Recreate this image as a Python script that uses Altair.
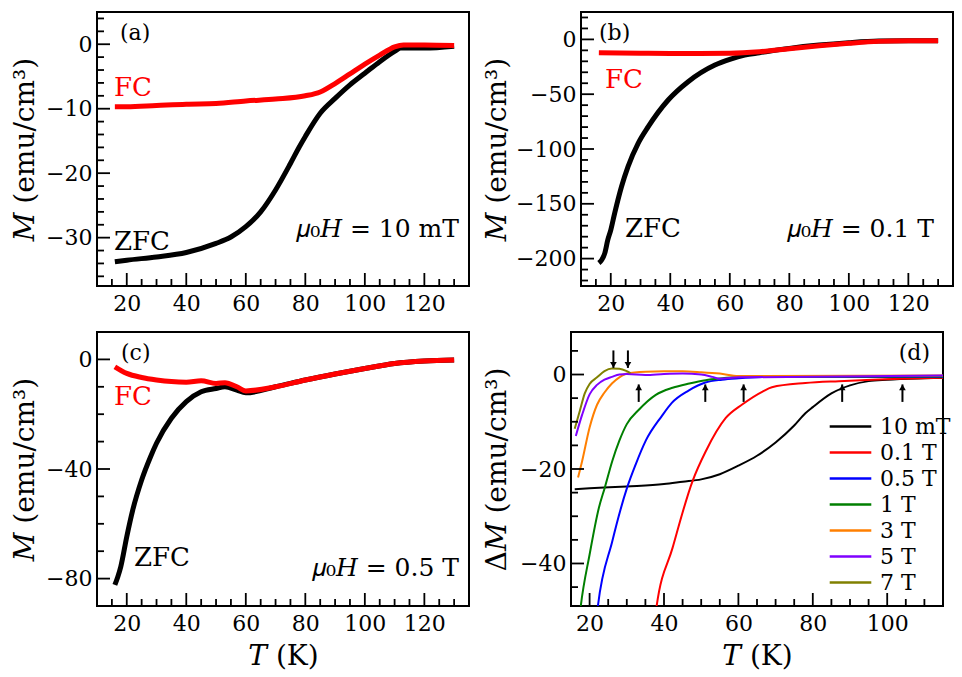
import altair as alt
import pandas as pd

FONT = "DejaVu Serif"
W, H = 372, 274

# ---------------- data ----------------
# (a) 10 mT
a_zfc_T = [16, 20, 30, 40, 50, 55, 60, 65, 70, 75, 78, 80, 85, 90, 95, 100, 105, 110, 112, 120, 130]
a_zfc_M = [-33.75, -33.5, -33.0, -32.3, -30.9, -29.9, -28.3, -26.0, -22.6, -18.5, -15.9, -14.3, -10.7, -8.4, -6.3, -4.5, -2.7, -1.1, -0.6, -0.6, -0.3]
a_fc_T = [16, 20, 30, 40, 50, 60, 70, 80, 85, 90, 95, 100, 105, 110, 113, 120, 130]
a_fc_M = [-9.7, -9.7, -9.5, -9.3, -9.2, -8.8, -8.5, -8.0, -7.4, -6.1, -4.6, -3.1, -1.7, -0.4, -0.1, -0.1, -0.2]

# (b) 0.1 T
b_zfc_T = [16, 17, 18, 19, 20, 21.3, 23.6, 25.8, 29.2, 32.6, 39.3, 46, 55, 60, 65, 70, 80, 90, 100, 110, 120, 130]
b_zfc_M = [-204, -201, -195, -183, -174, -158.7, -134.4, -116, -94.8, -79.6, -55.3, -38.6, -23.4, -18.2, -14.3, -12.2, -8.2, -5.2, -3.0, -1.5, -1.2, -1.2]
b_fc_T = [16, 30, 40, 50, 60, 70, 80, 90, 100, 110, 120, 130]
b_fc_M = [-12.2, -12.6, -12.8, -12.8, -12.6, -11.2, -8.5, -5.8, -3.6, -1.8, -1.2, -1.2]

# (c) 0.5 T
c_zfc_T = [16, 17, 18, 20, 22, 25, 28, 30, 35, 40, 45, 50, 53, 57, 60, 70, 80, 90, 100, 110, 120, 130]
c_zfc_M = [-82.3, -79.3, -75.6, -64.7, -55, -44, -35.5, -30.6, -21.5, -15.4, -11.8, -10.6, -10.0, -11.2, -12.2, -10, -7.5, -5.3, -3.3, -1.5, -0.6, -0.2]
c_fc_T = [16, 20, 25, 30, 35, 40, 45, 50, 53, 57, 60, 70, 80, 90, 100, 110, 120, 130]
c_fc_M = [-2.7, -5.1, -6.6, -7.5, -8.1, -8.3, -7.8, -8.8, -8.5, -10, -11.5, -10, -7.5, -5.3, -3.3, -1.5, -0.6, -0.2]

# (d) Delta M for several fields
d_labels = ["10 mT", "0.1 T", "0.5 T", "1 T", "3 T", "5 T", "7 T"]
d_colors = ["#000000", "#ff0000", "#0000ff", "#007f00", "#ff7f00", "#7f00ff", "#808000"]
d10_T = [16, 20, 30, 40, 45, 50, 55, 60, 65, 70, 75, 78, 80, 85, 90, 95, 100, 110, 115]
d10_M = [-24.3, -24.1, -23.7, -23.2, -22.7, -22.2, -21.1, -19.3, -17.2, -14.4, -10.8, -8.2, -6.9, -4.0, -2.3, -1.4, -1.1, -0.8, -0.7]
d01_T = [37.5, 38, 42.3, 47.7, 51.2, 56.6, 61.1, 66.5, 69, 78, 87, 96, 115]
d01_M = [-52, -49.1, -36.7, -22.5, -16.3, -9.2, -6.3, -3.6, -2.7, -1.8, -1.4, -1.1, -0.7]
d05_T = [21.8, 22.2, 26.1, 30.1, 32.4, 35.1, 39.4, 42.1, 46.6, 51.1, 55.6, 60.1, 69, 115]
d05_M = [-52, -49.2, -35.3, -23.9, -19.0, -14.0, -8.8, -6.0, -3.4, -1.7, -1.1, -0.8, -0.5, -0.5]
d1_T = [17.2, 17.6, 20, 22.5, 24.1, 26.1, 28, 30, 33.3, 37.8, 42.3, 46.8, 51.2, 55.7, 60.2, 115]
d1_M = [-52, -49.2, -38.1, -28.2, -23.9, -18.3, -14, -10.5, -7.4, -4.3, -2.8, -1.9, -1.2, -0.8, -0.5, -0.4]
d3_T = [16.9, 18, 20, 22, 24, 26, 28, 30, 35, 40, 45, 50, 55, 60, 115]
d3_M = [-21.8, -18.3, -11.2, -6.4, -3.8, -1.9, -0.6, 0.2, 0.6, 0.7, 0.7, 0.5, 0.2, -0.3, -0.2]
d5_T = [16.3, 18, 20, 22, 24, 26, 28, 30, 35, 40, 45, 50, 53, 55, 60, 115]
d5_M = [-13, -8.5, -4.2, -2.2, -1.1, -0.5, 0, 0.1, -0.1, 0.1, 0.2, 0, -0.5, -0.9, -0.6, -0.2]
d7_T = [16, 17.4, 18.7, 20, 22, 24, 26, 28, 30, 31]
d7_M = [-11.5, -7.6, -4.0, -2.0, -0.6, 0.7, 1.25, 1.2, 0.7, 0.3]

arrow_down_T = [26.4, 30.3]
arrow_down_from = [5.1, 5.1]
arrow_down_to = [1.4, 1.4]
arrow_up_T = [33.2, 51.1, 61.4, 87.9, 104.1]
arrow_up_from = [-5.8, -5.8, -5.8, -5.8, -5.8]
arrow_up_to = [-2.1, -2.1, -2.1, -2.1, -2.1]

# ticks
x_major_abc = [20, 40, 60, 80, 100, 120]
x_minor_abc = [15, 25, 30, 35, 45, 50, 55, 65, 70, 75, 85, 90, 95, 105, 110, 115, 125, 130]
y_major_a = [0, -10, -20, -30]
y_minor_a = [4, 2, -2, -4, -6, -8, -12, -14, -16, -18, -22, -24, -26, -28, -32, -34, -36]
y_major_b = [0, -50, -100, -150, -200]
y_minor_b = [20, 10, -10, -20, -30, -40, -60, -70, -80, -90, -110, -120, -130, -140, -160, -170, -180, -190, -210, -220]
y_major_c = [0, -40, -80]
y_minor_c = [-10, -20, -30, -50, -60, -70]
x_major_d = [20, 40, 60, 80, 100]
x_minor_d = [25, 30, 35, 45, 50, 55, 65, 70, 75, 85, 90, 95, 105, 110]
y_major_d = [0, -20, -40]
y_minor_d = [5, -5, -10, -15, -25, -30, -35, -45]


def x_axis(vals, title):
    kw = dict(values=vals, ticks=False, tickSize=0, domain=False, grid=False, labelFont=FONT,
              labelFontSize=22, labelColor="black", labelPadding=7, labelFlush=False)
    if title:
        kw.update(title=title, titleFont=FONT, titleFontSize=28, titleFontWeight="normal",
                  titleColor="black", titleX=W / 2, titleY=50, titleBaseline="middle", titleAlign="center")
    else:
        kw.update(title=None)
    return alt.Axis(**kw)


def y_axis(vals, title, tx):
    return alt.Axis(values=vals, ticks=False, tickSize=0, domain=False, grid=False, labelFont=FONT,
                    labelFontSize=22, labelColor="black", labelPadding=5, labelFlush=False,
                    title=title, titleFont=FONT, titleFontSize=28, titleFontWeight="normal",
                    titleColor="black", titleX=tx, titleY=H / 2, titleBaseline="middle",
                    titleAlign="center", titleAngle=270)


def tick_layers(xs, ys, xa, ya, xmaj, xmin, ymaj, ymin):
    out = []
    for vals, L in ((xmaj, 13), (xmin, 7)):
        out.append(alt.Chart(pd.DataFrame({"v": vals})).mark_rule(color="black", strokeWidth=1.8).encode(
            x=alt.X("v:Q", scale=xs, axis=xa), y=alt.value(H), y2=alt.value(H - L)))
    for vals, L in ((ymaj, 13), (ymin, 7)):
        out.append(alt.Chart(pd.DataFrame({"v": vals})).mark_rule(color="black", strokeWidth=1.8).encode(
            y=alt.Y("v:Q", scale=ys, axis=ya), x=alt.value(0), x2=alt.value(L)))
    return out


def text_layer(txt, px, py, size=24, color="black", align="left"):
    return alt.Chart(pd.DataFrame({"t": [txt]})).mark_text(
        font=FONT, fontSize=size, color=color, align=align, baseline="middle").encode(
        text="t:N", x=alt.value(px), y=alt.value(py))


def mt_panel(zfc_T, zfc_M, fc_T, fc_M, ydom, ymaj, ymin, xtitle, tx, texts):
    xs = alt.Scale(domain=[10, 135], nice=False, zero=False)
    ys = alt.Scale(domain=ydom, nice=False, zero=False)
    xa = x_axis(x_major_abc, xtitle)
    ya = y_axis(ymaj, "𝑀 (emu/cm³)", tx)
    zfc = alt.Chart(pd.DataFrame({"T": zfc_T, "M": zfc_M})).mark_line(
        strokeWidth=5, interpolate="monotone", color="black").encode(
        x=alt.X("T:Q", scale=xs, axis=xa), y=alt.Y("M:Q", scale=ys, axis=ya))
    fc = alt.Chart(pd.DataFrame({"T": fc_T, "M": fc_M})).mark_line(
        strokeWidth=5, interpolate="monotone", color="#ff0000").encode(
        x=alt.X("T:Q", scale=xs, axis=xa), y=alt.Y("M:Q", scale=ys, axis=ya))
    layers = [zfc, fc] + tick_layers(xs, ys, xa, ya, x_major_abc, x_minor_abc, ymaj, ymin)
    layers += [text_layer(*t[:3], **t[3]) for t in texts]
    return alt.layer(*layers).properties(width=W, height=H)


pa = mt_panel(a_zfc_T, a_zfc_M, a_fc_T, a_fc_M, [-37.5, 5], y_major_a, y_minor_a, None, -72, [
    ("(a)", 23, 21, dict(size=22)),
    ("FC", 17, 76, dict(size=26, color="#ff0000")),
    ("ZFC", 17, 230, dict(size=26)),
    ("𝜇₀𝐻 = 10 mT", 362, 217, dict(size=25, align="right")),
])
pb = mt_panel(b_zfc_T, b_zfc_M, b_fc_T, b_fc_M, [-225, 25], y_major_b, y_minor_b, None, -84, [
    ("(b)", 18, 21, dict(size=22)),
    ("FC", 24, 68, dict(size=26, color="#ff0000")),
    ("ZFC", 44, 217, dict(size=26)),
    ("𝜇₀𝐻 = 0.1 T", 353, 217, dict(size=25, align="right")),
])
pc = mt_panel(c_zfc_T, c_zfc_M, c_fc_T, c_fc_M, [-90, 10], y_major_c, y_minor_c, "𝑇 (K)", -72, [
    ("(c)", 24, 21, dict(size=22)),
    ("FC", 17, 65, dict(size=26, color="#ff0000")),
    ("ZFC", 37, 226, dict(size=26)),
    ("𝜇₀𝐻 = 0.5 T", 362, 236, dict(size=25, align="right")),
])

# panel (d)
xs_d = alt.Scale(domain=[15, 115], nice=False, zero=False)
ys_d = alt.Scale(domain=[-49, 9], nice=False, zero=False)
xa_d = x_axis(x_major_d, "𝑇 (K)")
ya_d = y_axis(y_major_d, "Δ𝑀 (emu/cm³)", -74)
frames = []
for lab, T, M in zip(d_labels, [d10_T, d01_T, d05_T, d1_T, d3_T, d5_T, d7_T],
                     [d10_M, d01_M, d05_M, d1_M, d3_M, d5_M, d7_M]):
    frames.append(pd.DataFrame({"T": T, "M": M, "field": lab}))
df_d = pd.concat(frames, ignore_index=True)

lines_d = alt.Chart(df_d).mark_line(strokeWidth=2, interpolate="monotone", clip=True).encode(
    x=alt.X("T:Q", scale=xs_d, axis=xa_d),
    y=alt.Y("M:Q", scale=ys_d, axis=ya_d),
    color=alt.Color("field:N", scale=alt.Scale(domain=d_labels, range=d_colors), sort=d_labels,
                    legend=alt.Legend(orient="none", legendX=265, legendY=80, title=None,
                                      symbolType="M-1.6,0H1.6", symbolSize=676, symbolStrokeWidth=2.4,
                                      labelFont=FONT, labelFontSize=22, labelColor="black",
                                      rowPadding=0, labelOffset=15, padding=0)),
    detail="field:N",
)
arr_dn = pd.DataFrame({"T": arrow_down_T, "a": arrow_down_from, "b": arrow_down_to})
arr_up = pd.DataFrame({"T": arrow_up_T, "a": arrow_up_from, "b": arrow_up_to})
shaft_dn = alt.Chart(arr_dn).mark_rule(color="black", strokeWidth=2).encode(
    x=alt.X("T:Q", scale=xs_d, axis=xa_d), y=alt.Y("a:Q", scale=ys_d, axis=ya_d), y2="b:Q")
head_dn = alt.Chart(arr_dn).mark_point(shape="triangle-down", filled=True, size=45, color="black",
                                       opacity=1, yOffset=-3).encode(
    x=alt.X("T:Q", scale=xs_d, axis=xa_d), y=alt.Y("b:Q", scale=ys_d, axis=ya_d))
shaft_up = alt.Chart(arr_up).mark_rule(color="black", strokeWidth=2).encode(
    x=alt.X("T:Q", scale=xs_d, axis=xa_d), y=alt.Y("a:Q", scale=ys_d, axis=ya_d), y2="b:Q")
head_up = alt.Chart(arr_up).mark_point(shape="triangle-up", filled=True, size=45, color="black",
                                       opacity=1, yOffset=3).encode(
    x=alt.X("T:Q", scale=xs_d, axis=xa_d), y=alt.Y("b:Q", scale=ys_d, axis=ya_d))

pd_layers = [lines_d, shaft_dn, head_dn, shaft_up, head_up] + tick_layers(
    xs_d, ys_d, xa_d, ya_d, x_major_d, x_minor_d, y_major_d, y_minor_d) + [
    text_layer("(d)", 359, 21, size=22, align="right")]
pdd = alt.layer(*pd_layers).properties(width=W, height=H)

top = alt.hconcat(pa, pb, spacing=12)
bot = alt.hconcat(pc, pdd, spacing=12).resolve_scale(color="independent").resolve_legend(color="independent")
chart = alt.vconcat(top, bot, spacing=16).resolve_scale(color="independent").resolve_legend(
    color="independent").properties(
    padding={"left": 2, "top": 3, "right": 0, "bottom": 0}
).configure(background="white").configure_view(stroke="black", strokeWidth=2)

chart.save("out.html", embed_options={"renderer": "svg", "actions": False})
